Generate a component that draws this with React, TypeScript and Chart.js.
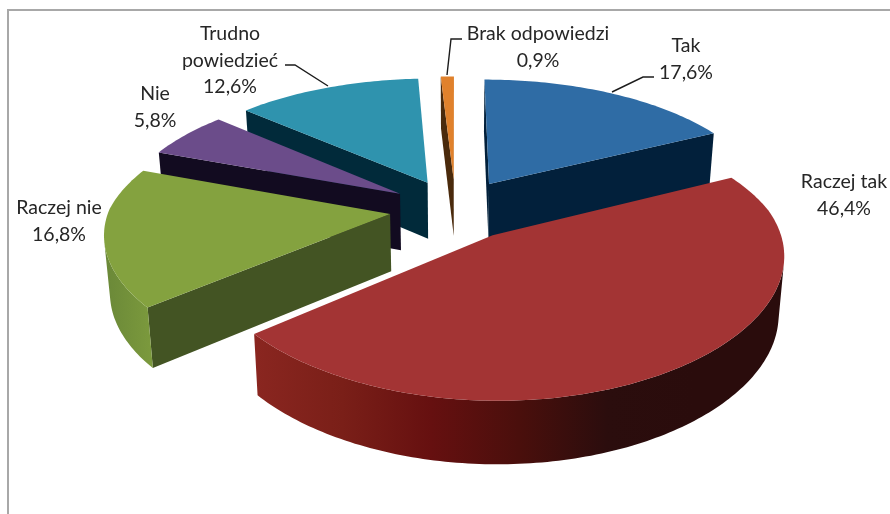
import React, { useEffect, useRef } from "react";
import { Chart, registerables } from "chart.js";

Chart.register(...registerables);

const categories = ["Tak", "Raczej tak", "Raczej nie", "Nie", "Trudno powiedzieć", "Brak odpowiedzi"];
const values = [17.6, 46.4, 16.8, 5.8, 12.6, 0.9];
const topColors = ["#2F6CA5", "#A33434", "#84A23F", "#6B4C8A", "#2F93AE", "#E0812C"];
const faceColors = ["#02203B", "#3A0D0D", "#435423", "#120B20", "#012A3A", "#4A2A0C"];
const rimStops: string[][] = [
  ["#02203B"],
  ["#8A2620", "#7A1F18", "#661010", "#4A0F0C", "#2B0D0D", "#2A0C0C", "#2A0C0C"],
  ["#6A8838", "#7C9A3D"],
  ["#120B20"],
  ["#012A3A"],
  ["#7A4A14"],
];
const labelLines = [["Tak"], ["Raczej tak"], ["Raczej nie"], ["Nie"], ["Trudno", "powiedzieć"], ["Brak odpowiedzi"]];
const labelAnchors = [[686, 46], [844, 182], [59, 208], [155, 94], [230, 34], [538, 34]];
const leaders = [
  [[654, 77], [643, 77], [612, 92]],
  [],
  [],
  [],
  [[285, 65], [295, 65], [328, 86]],
  [[462, 39], [451, 39], [447, 75]],
];

const CX = 455.5;
const CY = 209;
const MODEL_R = 281;
const EXPLODE = 66;
const K = 0.000581;
const K_FRONT_X = 0.00046;
const Q = 0.459;
const DEPTH = 57;
const DEPTH_NARROW = 0.0003;
const LINE_H = 26.5;

const project = (u: number, v: number, h: number): [number, number] => {
  const w = 1 - K * v;
  const wx = 1 - (v > 0 ? K_FRONT_X : K) * v;
  return [CX + (u / wx) * (1 - h * DEPTH_NARROW), CY + (Q * v) / w + h / Math.sqrt(w)];
};

const trace = (ctx: CanvasRenderingContext2D, pts: [number, number][]) => {
  ctx.beginPath();
  pts.forEach((p, i) => (i ? ctx.lineTo(p[0], p[1]) : ctx.moveTo(p[0], p[1])));
  ctx.closePath();
};

const pie3d = {
  id: "pie3d",
  beforeDatasetsDraw(chart: any) {
    const ctx: CanvasRenderingContext2D = chart.ctx;
    const arcs = chart.getDatasetMeta(0).data.map((arc: any, i: number) => {
      const { startAngle, endAngle } = arc.getProps(["startAngle", "endAngle"], true);
      const mid = (startAngle + endAngle) / 2;
      const off = (arc.options.offset / 66) * EXPLODE;
      return { i, startAngle, endAngle, u0: off * Math.cos(mid), v0: off * Math.sin(mid) };
    });
    arcs.sort((a: any, b: any) => a.v0 - b.v0);

    for (const s of arcs) {
      const steps = Math.max(4, Math.ceil(((s.endAngle - s.startAngle) * 180) / Math.PI));
      const rim: [number, number][] = [];
      for (let n = 0; n <= steps; n++) {
        const a = s.startAngle + ((s.endAngle - s.startAngle) * n) / steps;
        rim.push([s.u0 + MODEL_R * Math.cos(a), s.v0 + MODEL_R * Math.sin(a)]);
      }
      const top = rim.map((p) => project(p[0], p[1], 0));
      const bot = rim.map((p) => project(p[0], p[1], DEPTH));
      const apexT = project(s.u0, s.v0, 0);
      const apexB = project(s.u0, s.v0, DEPTH);

      const facing = (p1: number[], p2: number[], b1: number[]) =>
        (p2[0] - p1[0]) * (b1[1] - p1[1]) - (p2[1] - p1[1]) * (b1[0] - p1[0]) < 0;

      ctx.fillStyle = faceColors[s.i];
      if (facing(apexT, top[0], apexB)) {
        trace(ctx, [apexT, top[0], bot[0], apexB]);
        ctx.fill();
      }
      const last = top.length - 1;
      if (facing(top[last], apexT, bot[last])) {
        trace(ctx, [top[last], apexT, apexB, bot[last]]);
        ctx.fill();
      }

      let runStart = -1;
      const flush = (from: number, to: number) => {
        const pts = [...top.slice(from, to + 1), ...bot.slice(from, to + 1).reverse()];
        const xs = pts.map((p) => p[0]);
        const stops = rimStops[s.i];
        if (stops.length === 1) {
          ctx.fillStyle = stops[0];
        } else {
          const g = ctx.createLinearGradient(Math.min(...xs), 0, Math.max(...xs), 0);
          stops.forEach((c, n) => g.addColorStop(n / (stops.length - 1), c));
          ctx.fillStyle = g;
        }
        trace(ctx, pts);
        ctx.fill();
      };
      for (let n = 0; n < last; n++) {
        const f = facing(top[n], top[n + 1], bot[n]);
        if (f && runStart < 0) runStart = n;
        if (!f && runStart >= 0) {
          flush(runStart, n);
          runStart = -1;
        }
      }
      if (runStart >= 0) flush(runStart, last);

      ctx.fillStyle = topColors[s.i];
      trace(ctx, [apexT, ...top]);
      ctx.fill();
    }
    return false;
  },
  afterDraw(chart: any) {
    const ctx: CanvasRenderingContext2D = chart.ctx;
    ctx.save();
    ctx.strokeStyle = "#A8A8A8";
    ctx.lineWidth = 2;
    ctx.beginPath();
    ctx.moveTo(8, 514);
    ctx.lineTo(8, 10);
    ctx.lineTo(890, 10);
    ctx.stroke();
    ctx.strokeStyle = "#1C1C1C";
    ctx.lineWidth = 1.4;
    leaders.forEach((pts) => {
      if (!pts.length) return;
      ctx.beginPath();
      pts.forEach((p, i) => (i ? ctx.lineTo(p[0], p[1]) : ctx.moveTo(p[0], p[1])));
      ctx.stroke();
    });
    ctx.fillStyle = "#262626";
    ctx.font = '19.5px Lato, "Open Sans", sans-serif';
    ctx.textAlign = "center";
    ctx.textBaseline = "middle";
    categories.forEach((_, i) => {
      const lines = [...labelLines[i], values[i].toFixed(1).replace(".", ",") + "%"];
      lines.forEach((t, n) => ctx.fillText(t, labelAnchors[i][0], labelAnchors[i][1] + n * LINE_H));
    });
    ctx.restore();
  },
};

export default function App() {
  const ref = useRef<HTMLCanvasElement>(null);
  useEffect(() => {
    const chart = new Chart(ref.current!, {
      type: "pie",
      data: {
        labels: categories,
        datasets: [{ data: values, backgroundColor: topColors, offset: 66, borderWidth: 0 }],
      },
      options: {
        responsive: false,
        animation: false,
        plugins: { legend: { display: false }, tooltip: { enabled: false } },
      },
      plugins: [pie3d],
    } as any);
    return () => chart.destroy();
  }, []);
  return (
    <canvas
      ref={ref}
      width={890}
      height={514}
      style={{ position: "fixed", left: 0, top: 0, width: 890, height: 514, background: "#fff" }}
    />
  );
}
